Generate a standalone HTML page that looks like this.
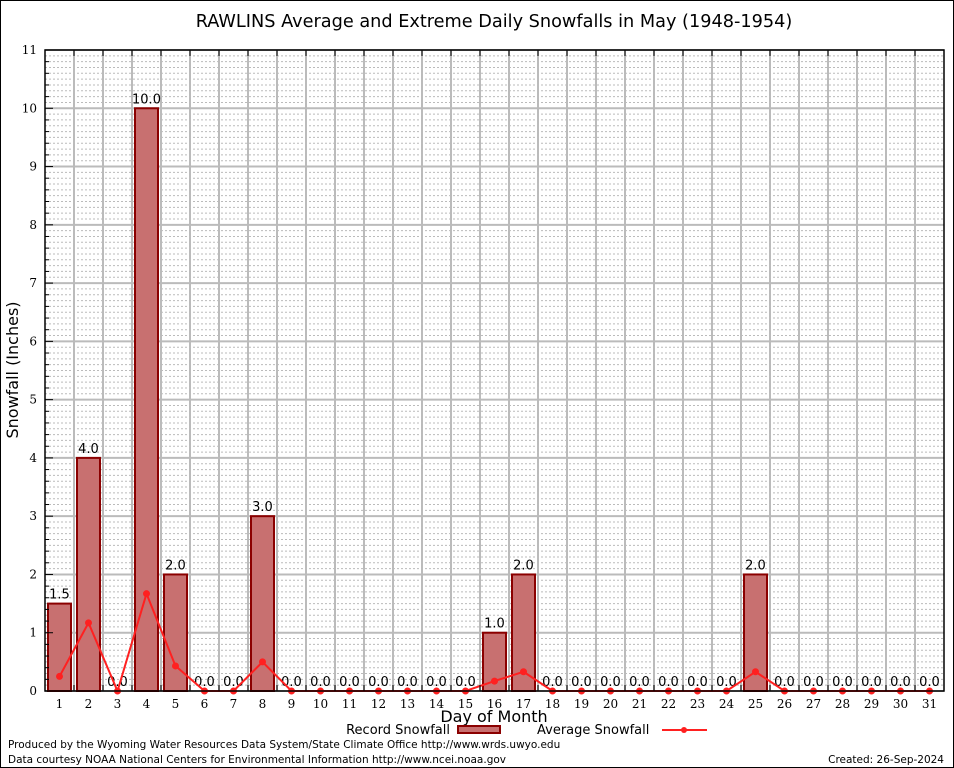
<!DOCTYPE html>
<html><head><meta charset="utf-8"><style>
body{margin:0;background:#fff;}
svg{display:block;font-family:"DejaVu Sans","Liberation Sans",sans-serif;}
.serif{font-family:"DejaVu Serif","Liberation Serif",serif;}
</style></head><body>
<svg id="chart" width="954" height="768" viewBox="0 0 954 768" xmlns="http://www.w3.org/2000/svg">
<rect x="0.5" y="0.5" width="953" height="767" fill="#fff" stroke="#000"/>
<text x="494" y="27" text-anchor="middle" font-size="17.7">RAWLINS Average and Extreme Daily Snowfalls in May (1948-1954)</text>
<g id="grid"></g>
<g id="bars"></g>
<g id="line"></g>
<g id="axes"></g>
<text x="18" y="370" font-size="16" text-anchor="middle" transform="rotate(-90 18 370)">Snowfall (Inches)</text>
<text x="494" y="722" font-size="16" text-anchor="middle">Day of Month</text>
<g>
<text x="450" y="734" font-size="13" text-anchor="end">Record Snowfall</text>
<rect x="458" y="726" width="42" height="7" fill="#c87070" stroke="#8b0000" stroke-width="2"/>
<text x="537" y="734" font-size="13">Average Snowfall</text>
<line x1="662" y1="730" x2="707" y2="730" stroke="#ff2020" stroke-width="2"/>
<circle cx="684" cy="730" r="3" fill="#ff2020"/>
</g>
<text x="8" y="748" font-size="10.5">Produced by the Wyoming Water Resources Data System/State Climate Office http://www.wrds.uwyo.edu</text>
<text x="8" y="763" font-size="10.5">Data courtesy NOAA National Centers for Environmental Information http://www.ncei.noaa.gov</text>
<text x="944" y="763" font-size="10.5" text-anchor="end">Created:  26-Sep-2024</text>
</svg>
<script>
const days=[1,2,3,4,5,6,7,8,9,10,11,12,13,14,15,16,17,18,19,20,21,22,23,24,25,26,27,28,29,30,31];
const recordSnow=[1.5,4.0,0,10.0,2.0,0,0,3.0,0,0,0,0,0,0,0,1.0,2.0,0,0,0,0,0,0,0,2.0,0,0,0,0,0,0];
const avgSnow=[0.25,1.17,0,1.67,0.43,0,0,0.5,0,0,0,0,0,0,0,0.17,0.33,0,0,0,0,0,0,0,0.33,0,0,0,0,0,0];
const yTicks=[0,1,2,3,4,5,6,7,8,9,10,11];
const NS="http://www.w3.org/2000/svg";
const L=45,R=944,T=50,B=691,yMax=11;
const step=(R-L)/days.length;
function xs(d){return L+(d-0.5)*step;}
function ys(v){return B-v/yMax*(B-T);}
function mk(tag,attrs,parent,txt){const e=document.createElementNS(NS,tag);for(const k in attrs)e.setAttribute(k,attrs[k]);if(txt!==undefined)e.textContent=txt;parent.appendChild(e);return e;}
const grid=document.getElementById('grid'),bars=document.getElementById('bars'),line=document.getElementById('line'),axes=document.getElementById('axes');
for(let i=1;i<yMax*10;i++){if(i%10===0)continue;const y=ys(i/10);
const g=mk('line',{x1:L,x2:R,y1:y,y2:y,stroke:'#bbb','stroke-width':1,'stroke-dasharray':'2,2'},grid);

}
yTicks.forEach(t=>{const y=ys(t);
const g=mk('line',{x1:L,x2:R,y1:y,y2:y,stroke:'#bbb','stroke-width':2},grid);


const tl=mk('text',{x:L-8,y:y+4,'font-size':12,'text-anchor':'end',class:'serif'},axes,String(t));


});
for(let i=1;i<days.length;i++){const x=L+i*step;
const g=mk('line',{x1:x,x2:x,y1:T,y2:B,stroke:'#bbb','stroke-width':2},grid);


mk('line',{x1:x,x2:x,y1:B,y2:B-6,stroke:'#000'},axes);
mk('line',{x1:x,x2:x,y1:T,y2:T+6,stroke:'#000'},axes);}
for(let i=1;i<yMax*5;i++){const y=ys(i/5);mk('line',{x1:L,x2:L+(i%5===0?8:4),y1:y,y2:y,stroke:'#000'},axes);}
days.forEach((d,i)=>{const v=recordSnow[i],x=xs(d);
if(v>0){const b=mk('rect',{x:x-11.5,y:ys(v),width:23,height:B-ys(v),fill:'#c87070',stroke:'#8b0000','stroke-width':2},bars);

}
const lab=mk('text',{x:x,y:ys(v)-5,'font-size':13,'text-anchor':'middle'},bars,v.toFixed(1));


const xl=mk('text',{x:x,y:B+17,'font-size':12,'text-anchor':'middle',class:'serif'},axes,String(d));


});
const pts=days.map((d,i)=>xs(d)+','+ys(avgSnow[i])).join(' ');
const pl=mk('polyline',{points:pts,fill:'none',stroke:'#ff2020','stroke-width':2},line);


days.forEach((d,i)=>{const c=mk('circle',{cx:xs(d),cy:ys(avgSnow[i]),r:3.5,fill:'#ff2020'},line);

});
const fr=mk('rect',{x:L,y:T,width:R-L,height:B-T,fill:'none',stroke:'#000','stroke-width':1.5},axes);


</script>
</body></html>
